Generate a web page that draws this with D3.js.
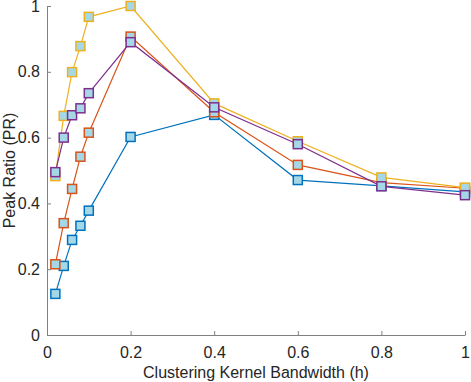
<!DOCTYPE html>
<html lang="en">
<head>
  <meta charset="utf-8" />
  <title>Peak Ratio vs Bandwidth</title>
  <style>
    body { margin: 0; background: #fff; font-family: "Liberation Sans", Arial, sans-serif; }
    .axis path, .axis line { stroke: #808080; }
    .axis text { fill: #262626; font-size: 16px; font-family: "Liberation Sans", Arial, sans-serif; }
    .label { fill: #262626; font-size: 16px; }
  </style>
</head>
<body>
<script src="https://cdn.jsdelivr.net/npm/d3@7"></script>
<script>
  const bandwidth = [0.02, 0.04, 0.06, 0.08, 0.1, 0.2, 0.4, 0.6, 0.8, 1];

  const blueVals   = [0.125, 0.21, 0.289, 0.332, 0.378, 0.602, 0.669, 0.471, 0.453, 0.435];
  const orangeVals = [0.215, 0.34, 0.444, 0.542, 0.615, 0.907, 0.677, 0.517, 0.463, 0.446];
  const yellowVals = [0.483, 0.666, 0.799, 0.878, 0.967, 1.0, 0.704, 0.589, 0.479, 0.448];
  const purpleVals = [0.495, 0.6, 0.668, 0.689, 0.735, 0.89, 0.692, 0.58, 0.452, 0.425];

  const xTicks = [0, 0.2, 0.4, 0.6, 0.8, 1];
  const yTicks = [0, 0.2, 0.4, 0.6, 0.8, 1];

  const series = [
    { color: "#0072BD", values: blueVals },
    { color: "#D95319", values: orangeVals },
    { color: "#EDB120", values: yellowVals },
    { color: "#7E2F8E", values: purpleVals }
  ];

  const width = 471;
  const height = 382;
  const margin = { left: 47, right: 6, top: 6, bottom: 47 };

  const svg = d3.select("body")
    .append("svg")
    .attr("width", width)
    .attr("height", height);

  const x = d3.scaleLinear().domain([0, 1]).range([margin.left, width - margin.right]);
  const y = d3.scaleLinear().domain([0, 1]).range([height - margin.bottom, margin.top]);

  // axes (MATLAB style: ticks inward)
  svg.append("g")
    .attr("class", "axis")
    .attr("transform", `translate(0,${height - margin.bottom})`)
    .call(d3.axisBottom(x).tickValues(xTicks).tickSize(-4).tickSizeOuter(0)
      .tickFormat(d => d3.format("")(d)))
    .call(g => g.selectAll("text").attr("dy", "0").attr("y", 23));

  svg.append("g")
    .attr("class", "axis")
    .attr("transform", `translate(${margin.left},0)`)
    .call(d3.axisLeft(y).tickValues(yTicks).tickSize(-4).tickSizeOuter(0)
      .tickFormat(d => d3.format("")(d)))
    .call(g => g.selectAll("text").attr("x", -7));

  const line = d3.line()
    .x((d, i) => x(bandwidth[i]))
    .y(d => y(d));

  const ms = 9;

  series.forEach(s => {
    const g = svg.append("g");
    g.append("path")
      .datum(s.values)
      .attr("fill", "none")
      .attr("stroke", s.color)
      .attr("stroke-width", 1.2)
      .attr("d", line);

    g.selectAll("rect")
      .data(s.values)
      .join("rect")
      .attr("x", (d, i) => x(bandwidth[i]) - ms / 2)
      .attr("y", d => y(d) - ms / 2)
      .attr("width", ms)
      .attr("height", ms)
      .attr("fill", "#a5d8e6")
      .attr("stroke", s.color)
      .attr("stroke-width", 1.5);
  });

  svg.append("text")
    .attr("class", "label")
    .attr("x", (margin.left + width - margin.right) / 2)
    .attr("y", 378)
    .attr("text-anchor", "middle")
    .text("Clustering Kernel Bandwidth (h)");

  svg.append("text")
    .attr("class", "label")
    .attr("transform", `translate(15,${(margin.top + height - margin.bottom) / 2}) rotate(-90)`)
    .attr("text-anchor", "middle")
    .text("Peak Ratio (PR)");
</script>
</body>
</html>
